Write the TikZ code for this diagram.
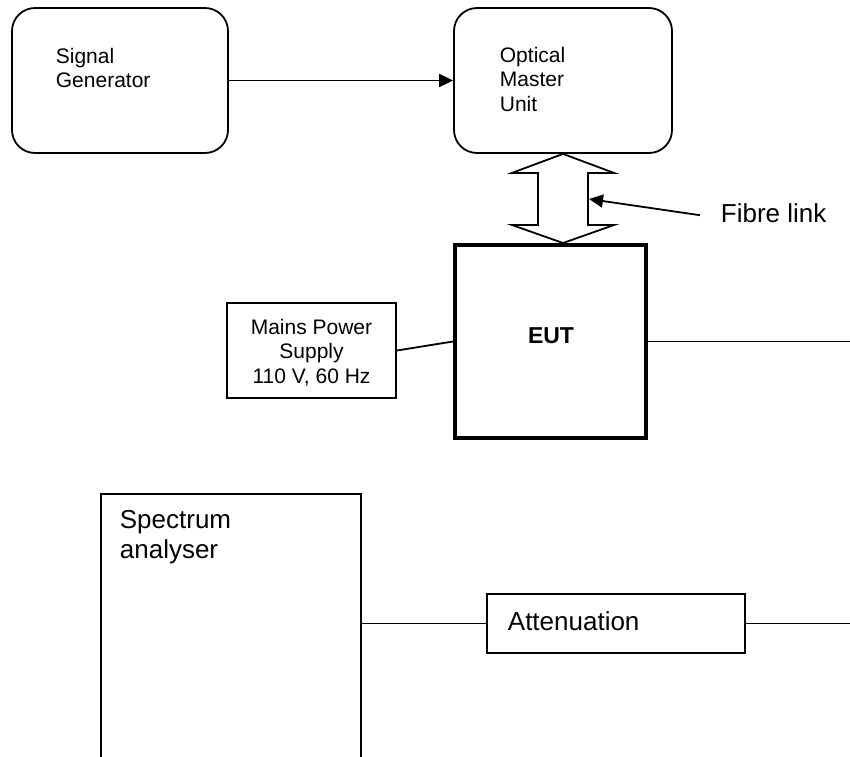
\documentclass[tikz,border=0pt]{standalone}
\usepackage{fontspec}
\setmainfont{Liberation Sans}
\usetikzlibrary{arrows.meta,calc}
\begin{document}
\begin{tikzpicture}[x=1pt,y=-1pt,line width=1.8pt,
  box/.style={draw,inner sep=0pt},
  rbox/.style={box,rounded corners=23pt},
  lbl/.style={inner sep=0pt,anchor=base west,align=left},
  small/.style={font=\fontsize{21}{24.3}\selectfont},
  big/.style={font=\fontsize{26}{29.5}\selectfont},
  arr/.style={-{Triangle[length=14pt,width=13pt]}}]
\clip (0,0) rectangle (850,756);
% top row
\node[rbox,minimum width=216pt,minimum height=145pt] (sg) at (120,80.5) {};
\node[rbox,minimum width=218pt,minimum height=145pt] (omu) at (563,80.5) {};
\node[lbl,small] (sgt) at (55,87.5) {Signal\\Generator};
\node[lbl,small] (omut) at (499,111) {Optical\\Master\\Unit};
\draw[arr] (sg.east) -- (omu.west);
% EUT
\node[box,line width=4pt,minimum width=191pt,minimum height=193pt] (eut) at (550.5,341.5) {};
\node[inner sep=0pt,anchor=base,font=\fontsize{23}{27}\selectfont\bfseries] (eutt) at (551,343) {EUT};
% fibre double arrow
\coordinate (ft) at (omu.south);
\coordinate (fb) at (omu.south |- eut.north);
\draw[line join=miter] (ft) -- ($(ft)+(51,19)$) -- ($(ft)+(25,19)$) -- ($(fb)+(25,-18)$)
  -- ($(fb)+(51,-18)$) -- (fb) -- ($(fb)+(-51,-18)$) -- ($(fb)+(-25,-18)$)
  -- ($(ft)+(-25,19)$) -- ($(ft)+(-51,19)$) -- cycle;
\node[lbl,big] (fl) at (720,222) {Fibre link};
\coordinate (fltip) at (589,199);
\draw[arr] ([xshift=-20pt,yshift=-2.5pt]fl.west) -- (fltip);
% mains
\node[box,minimum width=169pt,minimum height=95pt] (mains) at (311.5,350.5) {};
\node[inner sep=0pt,anchor=base,align=center,small] (mainst) at (311.5,383) {Mains Power\\Supply\\110 V, 60 Hz};
\draw (mains.east) -- (eut.west);
\coordinate (rightA) at (852,341.5);
\draw (eut.east) -- (rightA);
% spectrum analyser
\node[box,minimum width=260pt,minimum height=320pt,anchor=north west] (sa) at (100,493) {};
\node[lbl,big] (sat) at (119,558) {Spectrum\\analyser};
\node[box,minimum width=258pt,minimum height=59pt] (att) at (616,623.5) {};
\node[lbl,big] (attt) at (507,630) {Attenuation};
\draw (sa.east |- att.west) -- (att.west);
\coordinate (rightB) at (852,623.5);
\draw (att.east) -- (rightB);
\end{tikzpicture}
\end{document}
